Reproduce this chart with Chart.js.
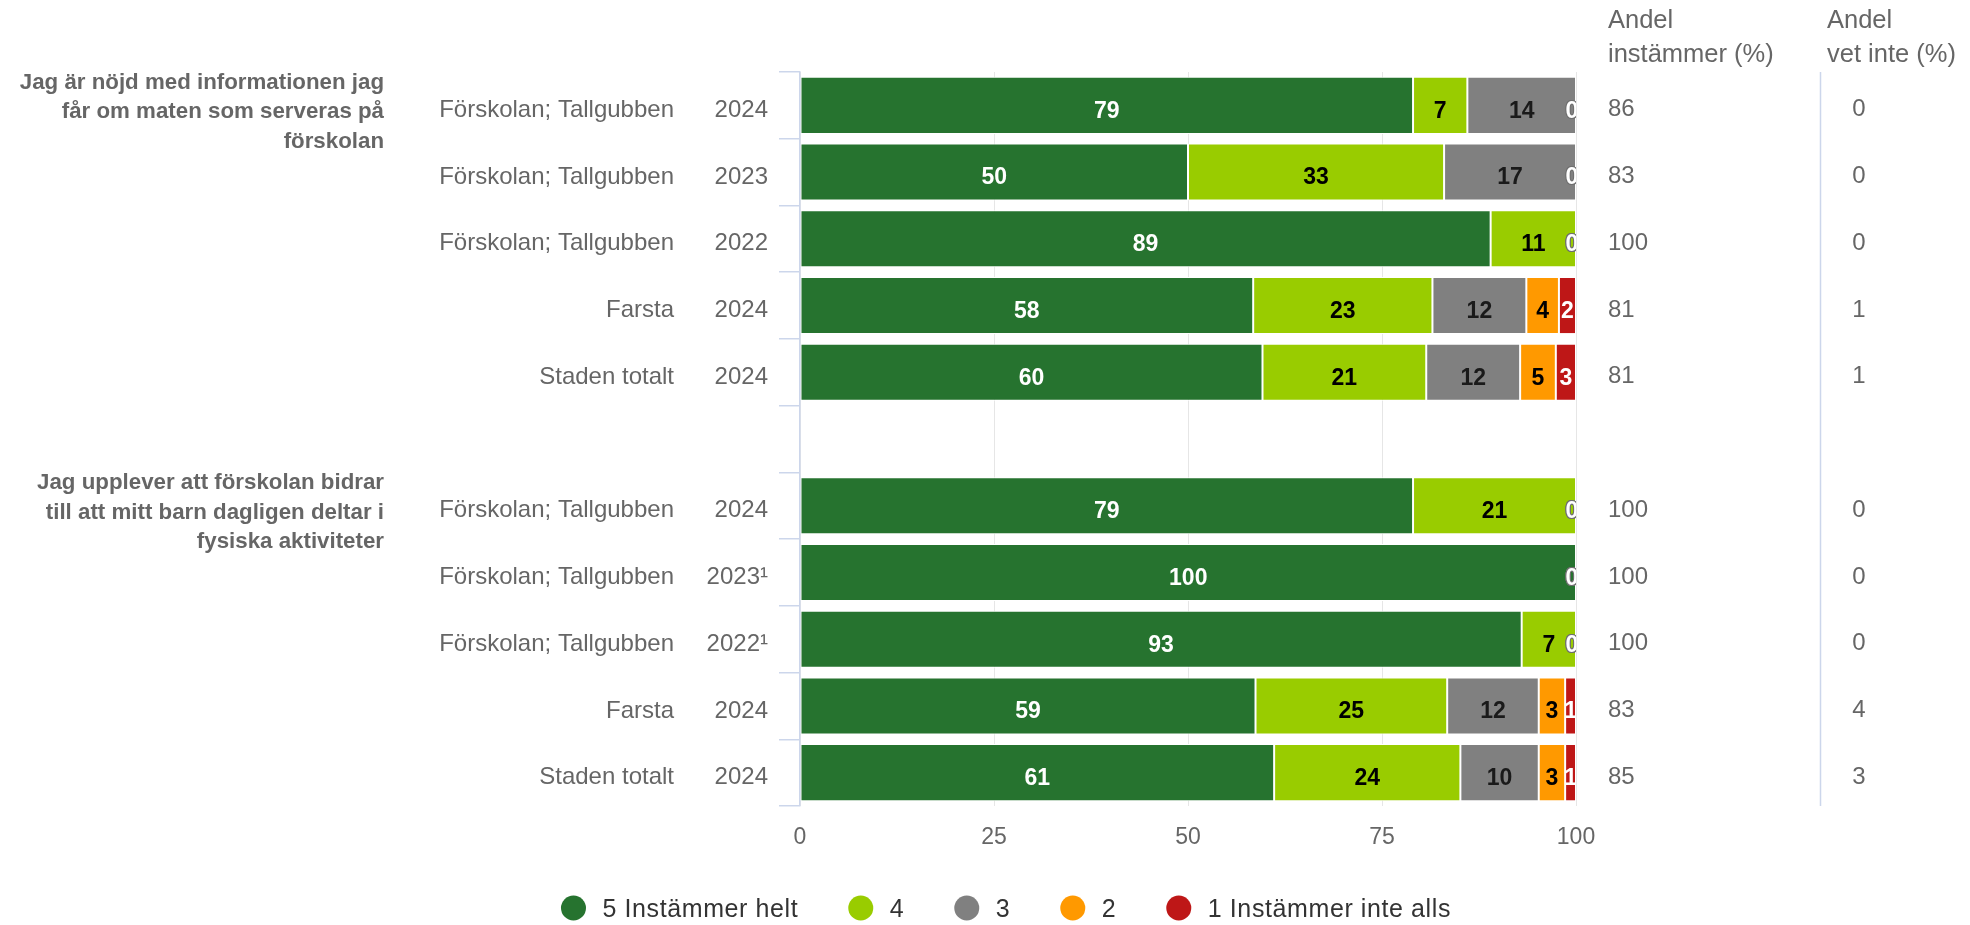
<!DOCTYPE html>
<html lang="sv">
<head>
<meta charset="utf-8">
<title>Förskoleenkät – mat och fysisk aktivitet</title>
<script src="https://cdn.jsdelivr.net/npm/chart.js@4.4.1/dist/chart.umd.min.js"></script>
<style>
  html, body { margin: 0; padding: 0; background: #fff; }
  #wrap { width: 1970px; height: 925px; position: relative; }
</style>
</head>
<body>
<div id="wrap"><canvas id="chart"></canvas></div>
<script>
/* Stacked 100% bars per unit/year, two survey questions, side columns with
   share agreeing and share "vet inte". Row 5 is an empty spacer row. */

// ---- data ------------------------------------------------------------------
const units = ['Förskolan; Tallgubben', 'Förskolan; Tallgubben', 'Förskolan; Tallgubben', 'Farsta', 'Staden totalt', '',
               'Förskolan; Tallgubben', 'Förskolan; Tallgubben', 'Förskolan; Tallgubben', 'Farsta', 'Staden totalt'];
const years = ['2024', '2023', '2022', '2024', '2024', '', '2024', '2023¹', '2022¹', '2024', '2024'];

const questions = [
  ['Jag är nöjd med informationen jag', 'får om maten som serveras på', 'förskolan'],
  ['Jag upplever att förskolan bidrar', 'till att mitt barn dagligen deltar i', 'fysiska aktiviteter'],
];
const questionRows = [0, 6];

const seriesNames = ['5 Instämmer helt', '4', '3', '2', '1 Instämmer inte alls'];
const seriesColors = ['#26732f', '#99cc00', '#808080', '#ff9900', '#be1717'];
const labelColors = ['#ffffff', '#000000', '#1a1a1a', '#000000', '#ffffff'];

const instammerHelt = [79, 50, 89, 58.4, 59.6, null, 79, 100, 93, 58.7, 61.1];
const svar4         = [7, 33, 11, 23.1, 21.1, null, 21, 0, 7, 24.7, 24.0];
const svar3         = [14, 17, 0, 12.1, 12.1, null, 0, 0, 0, 11.8, 10.1];
const svar2         = [0, 0, 0, 4.2, 4.6, null, 0, 0, 0, 3.4, 3.4];
const instammerInte = [0, 0, 0, 2.2, 2.6, null, 0, 0, 0, 1.4, 1.4];

const andelInstammer = [86, 83, 100, 81, 81, null, 100, 100, 100, 83, 85];
const andelVetInte   = [0, 0, 0, 1, 1, null, 0, 0, 0, 4, 3];
const headerInstammer = ['Andel', 'instämmer (%)'];
const headerVetInte   = ['Andel', 'vet inte (%)'];

const xTicks = [0, 25, 50, 75, 100];

// ---- drawing helpers ---------------------------------------------------------
const FONT = '"Liberation Sans", Arial, Helvetica, sans-serif';
const seriesData = [instammerHelt, svar4, svar3, svar2, instammerInte];

// values inside the bars; zero shares sit clipped at the right end like the original
const barLabels = {
  id: 'barLabels',
  afterDatasetsDraw(chart) {
    const { ctx, chartArea: a } = chart;
    ctx.save();
    ctx.beginPath();
    ctx.rect(a.left, a.top, a.right - a.left, a.bottom - a.top);
    ctx.clip();
    ctx.font = `bold 23px ${FONT}`;
    ctx.textAlign = 'center';
    ctx.textBaseline = 'middle';
    chart.data.datasets.forEach((ds, di) => {
      chart.getDatasetMeta(di).data.forEach((bar, i) => {
        const v = ds.data[i];
        if (v == null) return;
        const y = bar.y + 6;
        if (v === 0) {
          ctx.lineWidth = 2;
          ctx.strokeStyle = '#707070';
          ctx.fillStyle = '#ffffff';
          ctx.strokeText('0', bar.x - 4, y);
          ctx.fillText('0', bar.x - 4, y);
          return;
        }
        ctx.fillStyle = labelColors[di];
        ctx.fillText(String(Math.round(v)), (bar.x + bar.base) / 2, y);
      });
    });
    ctx.restore();
  }
};

// question texts, unit/year labels, right-hand columns and the legend
const sideText = {
  id: 'sideText',
  afterDraw(chart) {
    const { ctx, chartArea: a } = chart;
    const yScale = chart.scales.y;
    ctx.save();

    // questions
    ctx.font = `bold 22.3px ${FONT}`;
    ctx.fillStyle = '#666666';
    ctx.textAlign = 'right';
    ctx.textBaseline = 'alphabetic';
    questions.forEach((lines, q) => {
      const cy = yScale.getPixelForValue(questionRows[q]);
      lines.forEach((line, k) => ctx.fillText(line, 384, cy + 13 + (k - 1) * 29.5));
    });

    // unit + year
    ctx.font = `24px ${FONT}`;
    ctx.textBaseline = 'middle';
    units.forEach((u, i) => {
      const cy = yScale.getPixelForValue(i) + 5;
      ctx.fillText(u, 674, cy);
      ctx.fillText(years[i], 768, cy);
    });

    // right columns
    ctx.textAlign = 'left';
    ctx.textBaseline = 'alphabetic';
    ctx.font = `25.5px ${FONT}`;
    headerInstammer.forEach((t, k) => ctx.fillText(t, 1608, 28 + k * 34));
    headerVetInte.forEach((t, k) => ctx.fillText(t, 1827, 28 + k * 34));

    ctx.font = `24px ${FONT}`;
    ctx.textBaseline = 'middle';
    andelInstammer.forEach((v, i) => {
      if (v == null) return;
      const cy = yScale.getPixelForValue(i) + 4.5;
      ctx.textAlign = 'left';
      ctx.fillText(String(v), 1608, cy);
      ctx.textAlign = 'center';
      ctx.fillText(String(andelVetInte[i]), 1859, cy);
    });

    ctx.strokeStyle = '#ccd6eb';
    ctx.lineWidth = 1.5;
    ctx.beginPath();
    ctx.moveTo(1820.5, a.top);
    ctx.lineTo(1820.5, a.bottom);
    ctx.stroke();

    // legend
    ctx.font = `25px ${FONT}`;
    ctx.letterSpacing = '0.6px';
    const r = 12.5, gapText = 29, gapItem = 50;
    const widths = chart.data.datasets.map(ds => ctx.measureText(ds.label).width);
    const total = widths.reduce((s, w) => s + r + gapText + w, 0) + gapItem * (widths.length - 1);
    let x = 1006 - total / 2;
    chart.data.datasets.forEach((ds, i) => {
      ctx.fillStyle = ds.backgroundColor;
      ctx.beginPath();
      ctx.arc(x + r, 908, r, 0, Math.PI * 2);
      ctx.fill();
      ctx.fillStyle = '#333333';
      ctx.textAlign = 'left';
      ctx.textBaseline = 'middle';
      ctx.fillText(ds.label, x + r + gapText, 910);
      x += r + gapText + widths[i] + gapItem;
    });

    ctx.restore();
  }
};

// ---- chart -------------------------------------------------------------------
new Chart(document.getElementById('chart'), {
  type: 'bar',
  data: {
    labels: units.map((u, i) => `${u} ${years[i]}`),
    datasets: seriesNames.map((name, i) => ({
      label: name,
      data: seriesData[i],
      backgroundColor: seriesColors[i],
      borderColor: '#ffffff',
      borderWidth: 1,
      borderSkipped: false,
      categoryPercentage: 1,
      barPercentage: 0.855,
    })),
  },
  options: {
    indexAxis: 'y',
    responsive: true,
    maintainAspectRatio: false,
    animation: false,
    layout: { padding: { left: 779, right: 394, top: 72, bottom: 69 } },
    plugins: { legend: { display: false }, tooltip: { enabled: false } },
    scales: {
      x: {
        stacked: true,
        min: 0,
        max: 100,
        afterBuildTicks: s => { s.ticks = xTicks.map(v => ({ value: v })); },
        ticks: { color: '#666666', font: { size: 23, family: FONT }, padding: 18, maxRotation: 0, autoSkip: false },
        grid: { color: '#e6e6e6', lineWidth: 1, drawTicks: false },
        border: { display: false },
        afterFit: s => { s.height = 50; s.paddingLeft = 0; s.paddingRight = 0; },
      },
      y: {
        stacked: true,
        ticks: { display: false },
        grid: { offset: true, drawOnChartArea: false, drawTicks: true, tickLength: 21, color: '#ccd6eb', lineWidth: 1.5, z: 1 },
        border: { color: '#ccd6eb', width: 1.5, z: 1 },
        afterFit: s => { s.width = 21; s.paddingTop = 0; s.paddingBottom = 0; },
      },
    },
  },
  plugins: [barLabels, sideText],
});
</script>
</body>
</html>
